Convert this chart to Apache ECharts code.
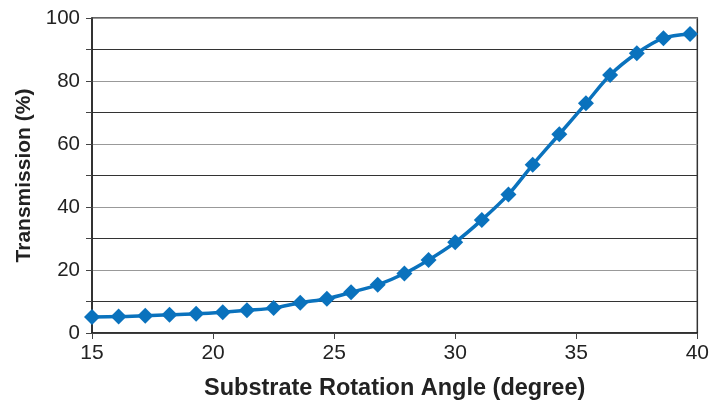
<!DOCTYPE html>
<html><head><meta charset="utf-8">
<script src="https://cdn.jsdelivr.net/npm/echarts@6/dist/echarts.min.js"></script>
<style>html,body{margin:0;padding:0;background:#fff}#c{width:712px;height:409px}</style>
</head><body><div id="c"></div>
<script>
const angles = [15, 16.1, 17.2, 18.2, 19.3, 20.4, 21.4, 22.5, 23.6, 24.7, 25.7, 26.8, 27.9, 28.9, 30.0, 31.1, 32.2, 33.2, 34.3, 35.4, 36.4, 37.5, 38.6, 39.7];
const transmission = [5.1, 5.2, 5.5, 5.8, 6.1, 6.6, 7.2, 7.9, 9.6, 10.9, 12.9, 15.3, 18.9, 23.2, 28.8, 35.9, 44.0, 53.4, 63.1, 72.9, 81.9, 88.8, 93.6, 94.9];
const xTicks = [15, 20, 25, 30, 35, 40];
const yTicks = [0, 20, 40, 60, 80, 100];
const FONT = 'Liberation Sans, Arial, sans-serif';
const chart = echarts.init(document.getElementById('c'));
chart.setOption({
  animation: false,
  grid: {left: 92, right: 14, top: 18, bottom: 76, show: true, borderColor: '#333', borderWidth: 1.5, backgroundColor: 'transparent'},
  xAxis: {
    type: 'value', min: 15, max: 40, interval: 5,
    name: 'Substrate Rotation Angle (degree)', nameLocation: 'middle', nameGap: 44,
    nameTextStyle: {fontFamily: FONT, fontWeight: 'bold', fontSize: 23.5, color: '#222'},
    axisLine: {show: true, lineStyle: {color: '#222', width: 1.5}},
    axisTick: {show: true, inside: false, length: 6, lineStyle: {color: '#444'}},
    axisLabel: {fontFamily: FONT, fontSize: 21, color: '#222', margin: 10,
      formatter: v => xTicks.includes(v) ? String(v) : ''},
    splitLine: {show: false}
  },
  yAxis: {
    type: 'value', min: 0, max: 100, interval: 10,
    name: 'Transmission (%)', nameLocation: 'middle', nameGap: 53, nameRotate: 90,
    nameTextStyle: {fontFamily: FONT, fontWeight: 'bold', fontSize: 21, color: '#222'},
    axisLine: {show: true, lineStyle: {color: '#222', width: 1.5}},
    axisTick: {show: true, inside: false, length: 6, lineStyle: {color: '#444'}},
    axisLabel: {fontFamily: FONT, fontSize: 20.5, color: '#222', margin: 12,
      formatter: v => yTicks.includes(v) ? String(v) : ''},
    splitLine: {show: true, lineStyle: {color: ['#999', '#333'], width: 1.2}}
  },
  series: [{
    type: 'line', smooth: 0.3,
    data: angles.map((a, i) => [a, transmission[i]]),
    symbol: 'diamond', symbolSize: 16,
    lineStyle: {color: '#0a72bd', width: 3.5},
    itemStyle: {color: '#0a72bd'},
    z: 5
  }]
});
</script></body></html>
